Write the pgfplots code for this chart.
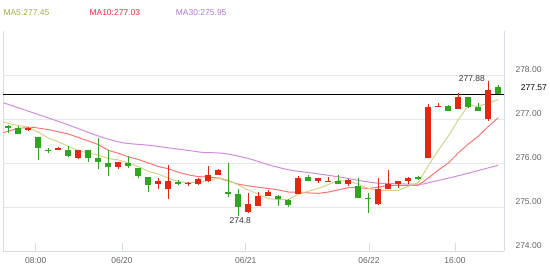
\documentclass[border=0pt]{standalone}
\usepackage{fontspec}
\setmainfont{Liberation Sans}
\usepackage{pgfplots}
\pgfplotsset{compat=1.18}
\usepackage{pgfplotstable}

\definecolor{up}{RGB}{226,40,14}
\definecolor{down}{RGB}{48,166,32}
\definecolor{maA}{RGB}{212,210,135}
\definecolor{maB}{RGB}{255,115,115}
\definecolor{maC}{RGB}{208,140,222}
\definecolor{txtA}{RGB}{168,168,72}
\definecolor{txtB}{RGB}{245,40,60}
\definecolor{txtC}{RGB}{172,120,205}
\definecolor{frame}{RGB}{212,220,238}
\definecolor{gridc}{RGB}{232,232,232}
\definecolor{lab}{RGB}{100,100,100}

% red = rising candles
\pgfplotstableread{
i o h l c
3 276.75 276.82 276.73 276.80
6 276.29 276.36 276.29 276.33
8 276.11 276.30 276.09 276.30
12 275.90 276.03 275.86 276.02
16 275.52 275.65 275.41 275.58
17 275.40 275.95 275.18 275.58
19 275.52 275.57 275.48 275.55
20 275.52 275.65 275.50 275.63
21 275.60 275.93 275.57 275.73
22 275.73 275.86 275.73 275.84
25 274.89 275.31 274.87 275.06
26 275.03 275.35 275.03 275.25
27 275.24 275.39 275.24 275.33
30 275.30 275.70 275.30 275.65
32 275.58 275.67 275.55 275.65
33 275.57 275.69 275.57 275.60
35 275.52 275.63 275.48 275.61
38 275.06 275.65 275.04 275.40
39 275.40 275.84 275.40 275.52
40 275.52 275.59 275.44 275.58
41 275.60 275.69 275.52 275.67
43 276.11 277.33 276.11 277.28
44 277.27 277.37 277.27 277.30
46 277.23 277.58 277.23 277.49
49 276.99 277.87 276.95 277.67
}\redtab

% green = falling candles
\pgfplotstableread{
i o h l c
1 276.83 276.86 276.68 276.80
2 276.79 276.85 276.65 276.65
4 276.60 276.60 276.07 276.33
5 276.30 276.35 276.22 276.27
7 276.30 276.39 276.13 276.16
9 276.30 276.30 276.02 276.11
10 276.11 276.56 275.86 276.02
11 276.00 276.30 275.71 275.90
13 276.01 276.16 275.88 275.94
14 275.88 275.88 275.65 275.70
15 275.69 275.69 275.35 275.50
18 275.57 275.61 275.50 275.53
23 275.33 275.99 275.22 275.29
24 275.29 275.42 274.80 275.01
28 275.25 275.27 275.02 275.18
29 275.17 275.19 275.01 275.05
31 275.68 275.73 275.58 275.58
34 275.60 275.73 275.52 275.52
36 275.48 275.65 275.20 275.20
37 275.21 275.31 274.87 275.19
42 275.68 275.70 275.61 275.63
45 277.30 277.31 277.18 277.19
47 277.51 277.51 277.25 277.27
48 277.27 277.37 277.18 277.19
50 277.72 277.77 277.57 277.57
}\greentab

\begin{document}
\begin{tikzpicture}
\path[use as bounding box] (0,0) rectangle (550pt,269pt);
\node[anchor=west, inner sep=0, font=\fontsize{8.5}{10}\selectfont, text=txtA] at (3.3pt,256.3pt) {MA5:277.45};
\node[anchor=west, inner sep=0, font=\fontsize{8.5}{10}\selectfont, text=txtB] at (89.3pt,256.3pt) {MA10:277.03};
\node[anchor=west, inner sep=0, font=\fontsize{8.5}{10}\selectfont, text=txtC] at (175.7pt,256.3pt) {MA30:275.95};
\node[anchor=west, inner sep=0, font=\fontsize{8.5}{10}\selectfont, text=black] at (520.7pt,181pt) {277.57};
\begin{axis}[
  at={(3pt,18pt)}, anchor=south west,
  scale only axis, width=501pt, height=220pt,
  xmin=0.47, xmax=50.57, ymin=274, ymax=279,
  axis x line*=bottom, axis y line*=box,
  axis line style={draw=frame, line width=1pt},
  xtick={3.74,12.37,24.74,37.07,45.67},
  xticklabels={08:00,06/20,06/21,06/22,16:00},
  x tick style={draw=frame, line width=0.8pt},
  major tick length=8pt, tick align=inside,
  ytick={274,275,276,277,278},
  y tick style={draw=none},
  ymajorgrids, grid style={draw=gridc, line width=1pt},
  yticklabel pos=right,
  /pgf/number format/.cd, fixed, fixed zerofill, precision=2, assume math mode=true,
  /pgfplots/.cd,
  yticklabel style={anchor=west, xshift=8pt, yshift=5pt, font=\fontsize{8.5}{10}\selectfont, text=lab},
  xticklabel style={yshift=-3pt, font=\fontsize{8.5}{10}\selectfont, text=lab},
  clip=true,
]
% MA30
\addplot[maC, line width=1pt, smooth] coordinates {
(0.5,277.37) (3.5,277.14) (6.84,276.88) (10.17,276.60) (12.47,276.46) (15.17,276.40)
(19.17,276.28) (20.47,276.24) (22.47,276.22) (24.87,276.11) (27.17,275.95) (29.17,275.84)
(31.47,275.77) (34.17,275.68) (36.17,275.60) (38.17,275.54) (42.17,275.52) (43.17,275.56)
(46.17,275.72) (50,275.95)};
% MA10
\addplot[maB, line width=1pt] coordinates {
(0.5,276.69) (2,276.79) (3.5,276.81) (5,276.76) (7,276.66) (9,276.50) (10,276.42)
(11,276.29) (12,276.22) (13,276.14) (14,276.08) (15,276.00) (16,275.92) (17,275.87)
(18,275.79) (19,275.73) (20,275.69) (21,275.68) (22,275.66) (23,275.59) (24,275.52)
(25,275.48) (26,275.45) (27,275.42) (28,275.39) (29,275.34) (30,275.34) (31,275.32)
(32,275.31) (33,275.34) (34,275.39) (35,275.44) (36,275.44) (37,275.42) (38,275.45)
(39,275.49) (40,275.49) (41,275.49) (42,275.49) (43,275.66) (44,275.84) (45,276.00)
(46,276.23) (47,276.43) (48,276.61) (49,276.83) (50,277.03)};
% MA5
\addplot[maA, line width=1pt] coordinates {
(0.5,276.93) (1,276.90) (2,276.85) (3,276.82) (4,276.70) (5,276.57) (6,276.48)
(7,276.38) (8,276.28) (9,276.23) (10,276.18) (11,276.10) (12,276.07) (13,276.00)
(14,275.92) (15,275.81) (16,275.75) (17,275.66) (18,275.58) (19,275.55) (20,275.57)
(21,275.60) (22,275.66) (23,275.61) (24,275.50) (25,275.39) (26,275.29) (27,275.19)
(28,275.17) (29,275.17) (30,275.29) (31,275.36) (32,275.42) (33,275.51) (34,275.60)
(35,275.59) (36,275.52) (37,275.42) (38,275.38) (39,275.38) (40,275.38) (41,275.47)
(42,275.56) (43,275.94) (44,276.29) (45,276.61) (46,276.98) (47,277.31) (48,277.29)
(49,277.36) (50,277.44)};
% last price line
\addplot[black, line width=0.8pt] coordinates {(0.47,277.57) (50.57,277.57)};
% wicks
\addplot[draw=none, mark=none, forget plot, error bars/.cd, y dir=plus, y explicit, error mark=none,
  error bar style={draw=up, line width=1pt}]
  table[x=i, y=l, y error expr=\thisrow{h}-\thisrow{l}] {\redtab};
\addplot[draw=none, mark=none, forget plot, error bars/.cd, y dir=plus, y explicit, error mark=none,
  error bar style={draw=down, line width=1pt}]
  table[x=i, y=l, y error expr=\thisrow{h}-\thisrow{l}] {\greentab};
% bodies
\addplot[draw=none, mark=none, forget plot, error bars/.cd, y dir=plus, y explicit, error mark=none,
  error bar style={draw=up, line width=6pt}]
  table[x=i, y=o, y error expr=\thisrow{c}-\thisrow{o}] {\redtab};
\addplot[draw=none, mark=none, forget plot, error bars/.cd, y dir=plus, y explicit, error mark=none,
  error bar style={draw=down, line width=6pt}]
  table[x=i, y=c, y error expr=\thisrow{o}-\thisrow{c}] {\greentab};
\node[anchor=east, inner sep=0, font=\fontsize{8.5}{10}\selectfont, text=black!80] at (axis cs:48.67,277.91) {277.88};
\node[anchor=north, inner sep=0, font=\fontsize{8.5}{10}\selectfont, text=black!80] at (axis cs:24.2,274.77) {274.8};
\end{axis}
\end{tikzpicture}
\end{document}
